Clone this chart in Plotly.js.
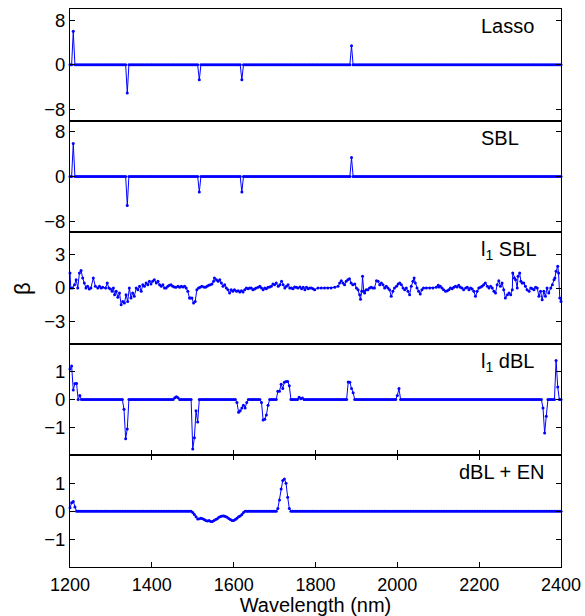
<!DOCTYPE html>
<html>
<head>
<meta charset="utf-8">
<script src="https://cdn.plot.ly/plotly-3.0.1.min.js"></script>
<style>html,body{margin:0;padding:0;background:#fff;}#chart{width:585px;height:616px;}</style>
</head>
<body>
<div id="chart"></div>
<script>
// Wavelength sampling grid (nm)
const wlStart = 1200, wlEnd = 2400, wlStep = 4;

// Panel labels
const panelLabels = ["Lasso", "SBL", "l<sub>1</sub> SBL", "l<sub>1</sub> dBL", "dBL + EN"];

// Lasso: non-zero coefficients (all others are zero)
const lassoWl   = [1208, 1340, 1516, 1620, 1888];
const lassoBeta = [6.0, -5.05, -2.7, -2.7, 3.43];

// SBL: non-zero coefficients
const sblWl   = [1208, 1340, 1516, 1620, 1888];
const sblBeta = [5.9, -5.2, -2.8, -2.8, 3.37];

// l1 SBL: dense coefficients
const l1sblWl = [1200,1202,1206,1211,1215,1219,1223,1227,1231,1235,1239,1243,1247,1251,1257,1262,1268,1272,1276,1280,1287,1291,1295,1299,1303,1306,1309,1313,1317,1321,1325,1329,1333,1337,1341,1345,1349,1353,1357,1362,1366,1370,1374,1378,1382,1386,1390,1394,1398,1402,1406,1411,1415,1419,1423,1427,1431,1435,1439,1443,1447,1451,1455,1459,1464,1468,1472,1476,1480,1484,1488,1492,
1494,1498,1502,1506,1510,1514,1518,1522,1527,1531,1535,1539,1543,1547,1551,1553,1558,1562,1566,1570,1574,1578,1582,1586,1590,1594,1598,1602,1607,1611,1615,1619,1623,1627,1631,1635,1639,1643,1647,1651,1655,1660,1664,1668,1672,1676,1680,1684,1688,1692,1696,1700,1704,1709,1713,1717,1721,1725,1729,1733,1737,1741,1745,1749,1753,1757,1762,1766,1770,1774,1778,1782,1786,1790,1794,1798,
1806,1814,1822,1830,1838,1847,1855,1859,1863,1867,1871,1875,1879,1883,1887,1891,1896,1900,1904,1908,1910,1913,1915,1918,1920,1924,1928,1932,1936,1940,1944,1949,1953,1957,1961,1965,1969,1973,1977,1981,1985,1989,1993,1998,2002,2006,2010,2014,2018,2022,2026,2030,2034,2038,2041,2044,2048,2052,2056,2060,2064,2071,2079,2087,2095,2100,2102,
2105,2109,2113,2118,2122,2126,2130,2134,2138,2142,2146,2150,2154,2158,2162,2167,2171,2175,2179,2183,2187,2191,2195,2199,2203,2207,2211,2215,2220,2224,2228,2232,2236,2240,2244,2248,2252,2256,2260,2264,2269,2273,2277,2281,2282,2286,2289,2293,2295,2299,2302,2305,2309,2313,2317,2322,2326,2330,2334,2338,2342,2346,2350,2354,2358,2362,2366,2370,2375,2379,2383,2385,2388,2392,2394,2397,2400];
const l1sblBeta = [1.35,0,0,0.3,0.75,0,1.35,1.56,0.9,0.45,0,0.15,-0.09,0,0.9,0.15,0,0.15,0,0.06,0,0.45,0,-0.09,-0.3,0,-0.6,-0.3,-0.84,-0.45,-1.5,-1.2,-1.35,-0.6,-1.2,0,-0.9,-0.45,-0.75,0,-0.15,0.15,-0.3,0.3,0.15,0.45,0.3,0.6,0.36,0.6,0.75,0.45,0.6,0.3,0.15,0.3,0,0,0.15,0.24,0.3,0.15,0.09,0.06,0.15,0.06,0.15,0.09,0.15,0,-0.3,-0.9,
-0.9,-0.9,-1.35,-1.2,-0.15,0,0.06,0.15,0.09,0.06,0.15,0.24,0.3,0.36,0.6,0.9,0.75,0.6,0.75,0.45,0.15,0.3,0,-0.15,-0.45,-0.15,-0.3,-0.15,-0.3,-0.24,-0.36,-0.24,-0.36,-0.15,0,-0.06,0,0,-0.15,-0.09,0,0.06,0.15,0,-0.15,0,-0.06,0.06,0.09,0.15,0.36,0.3,0.45,0.15,0.3,0.6,0.3,0,0.15,0.3,0,0,-0.06,0.09,0.06,0,0.09,-0.06,0.06,-0.15,0.06,-0.06,0,0,-0.06,-0.15,
0,0,0,0,0,0.06,0.15,0.45,0.66,0.45,0.3,0.6,0.75,0.84,0.45,0.3,0.36,0,-0.15,-0.6,-1.0,-0.3,1.05,-0.3,-0.45,-0.15,-0.15,0,0.06,0,0,0.66,0.6,0.3,0.45,0.3,0,0.15,0,-0.15,-0.75,-0.3,0,0.15,0.36,0.45,0.3,0,-0.15,0,-0.3,-0.6,0.15,0.6,0.9,0.45,0,-0.3,-0.54,-0.15,0,0,0,0,0.06,0.24,0.09,
0.15,0,-0.15,-0.3,-0.24,-0.15,0,-0.06,0.06,0.15,0.09,0.24,0.06,0,-0.15,0,0.06,-0.15,0,-0.09,-0.3,-0.75,-0.3,0,0.06,0.15,0.3,0.45,0.15,0,0.15,0,-0.3,-0.45,0.3,0.66,0.15,0.45,-0.15,-0.9,-0.6,-0.45,-0.6,-0.15,1.35,0.9,0.75,0,1.05,1.35,0.6,0.45,0.45,0.15,-0.15,-0.3,0,-0.06,-0.15,0.06,0,-0.75,-0.3,-1.05,-0.3,-0.75,0,-0.45,0,0.3,0.75,0.9,1.5,1.95,1.35,-0.9,-1.2];

// l1 dBL: non-zero coefficients
const l1dblWl   = [1200,1204,1208,1212,1216,1224,1332,1336,1340,1456,1460,1464,1500,1504,1508,1512,1608,1612,1616,1620,1624,1628,1632,1668,1672,1676,1680,1684,1708,1712,1716,1720,1724,1728,1732,1736,1760,1764,1768,1880,1884,1888,1892,2000,2004,2356,2360,2364,2388,2392];
const l1dblBeta = [1.1,1.2,0.34,0.58,0.58,0.15,-0.35,-1.4,-1.05,0.07,0.1,0.07,-1.77,-1.37,-0.4,-0.8,-0.1,-0.45,-0.4,-0.3,-0.2,-0.3,-0.1,-0.1,-0.73,-0.7,-0.55,-0.2,0.3,0.3,0.55,0.4,0.62,0.65,0.65,0.5,0.08,0.03,0.06,0.63,0.62,0.4,0.25,0.15,0.4,-0.3,-1.2,-0.6,1.4,0.45];

// dBL + EN: non-zero coefficients
const dblenWl   = [1200,1204,1208,1212,1500,1504,1508,1512,1516,1520,1524,1528,1532,1536,1540,1544,1548,1552,1556,1560,1564,1568,1572,1576,1580,1584,1588,1592,1596,1600,1604,1608,1612,1616,1620,1624,1708,1712,1716,1720,1724,1728,1732,1736];
const dblenBeta = [0.12,0.3,0.35,0.15,-0.05,-0.12,-0.2,-0.28,-0.27,-0.25,-0.27,-0.3,-0.33,-0.35,-0.33,-0.37,-0.37,-0.33,-0.3,-0.27,-0.22,-0.19,-0.17,-0.17,-0.19,-0.22,-0.26,-0.3,-0.33,-0.33,-0.3,-0.25,-0.2,-0.17,-0.12,-0.05,0.1,0.4,0.8,1.1,1.15,1.0,0.5,0.1];

// Axis ranges / ticks per panel
const yRanges = [[-10,10],[-10,10],[-5,5],[-2,2],[-2,2]];
const yTicks  = [[-8,0,8],[-8,0,8],[-3,0,3],[-1,0,1],[-1,0,1]];
const xTicks  = [1200,1400,1600,1800,2000,2200,2400];

function fullSeries(wls, betas){
  const x=[], y=[];
  for(let w=wlStart; w<=wlEnd; w+=wlStep){
    x.push(w);
    const i = wls.indexOf(w);
    y.push(i>=0 ? betas[i] : 0);
  }
  return {x, y};
}

const series = [
  fullSeries(lassoWl, lassoBeta),
  fullSeries(sblWl, sblBeta),
  {x: l1sblWl, y: l1sblBeta},
  fullSeries(l1dblWl, l1dblBeta),
  fullSeries(dblenWl, dblenBeta)
];

const font = {family: "Liberation Sans, Arial, sans-serif", color: "#000"};
const traces = [];
const layout = {
  width: 585, height: 616,
  margin: {l: 70, r: 24, t: 9, b: 49},
  paper_bgcolor: "#fff", plot_bgcolor: "#fff",
  showlegend: false,
  font: Object.assign({size: 18}, font),
  annotations: []
};

const n = 5;
for(let p=0; p<n; p++){
  const sfx = p===0 ? "" : String(p+1);
  traces.push({
    x: series[p].x, y: series[p].y,
    type: "scatter", mode: "lines+markers",
    line: {color: "#0000ff", width: 1},
    marker: {color: "#0000ff", size: 3},
    xaxis: "x" + sfx, yaxis: "y" + sfx,
    cliponaxis: false, hoverinfo: "skip"
  });
  const top = 1 - p/n, bot = 1 - (p+1)/n;
  const isBottom = p === n-1;
  const hasXTicks = p >= 3;
  const xa = {
    domain: [0,1], anchor: "y" + sfx, range: [wlStart, wlEnd],
    tickvals: xTicks, ticks: hasXTicks ? "inside" : "", ticklen: 5, tickcolor: "#000",
    showticklabels: isBottom, showline: true, linecolor: "#000", linewidth: 1,
    mirror: isBottom ? "ticks" : true, showgrid: false, zeroline: false,
    tickfont: Object.assign({size: 18}, font)
  };
  if(isBottom){
    xa.ticklabelstandoff = 1;
    xa.title = {text: "Wavelength (nm)", font: Object.assign({size: 20}, font), standoff: 4};
  }
  layout["xaxis" + sfx] = xa;
  layout["yaxis" + sfx] = {
    domain: [bot, top], anchor: "x" + sfx, range: yRanges[p],
    tickvals: yTicks[p], ticks: "inside", ticklen: 5, tickcolor: "#000",
    showline: true, linecolor: "#000", linewidth: 1, mirror: "ticks",
    showgrid: false, zeroline: false,
    tickfont: Object.assign({size: 18.5}, font)
  };
  const lx = p === 4 ? 0.788 : 0.833;
  layout.annotations.push({
    text: panelLabels[p], xref: "paper", yref: "paper",
    x: lx, y: top - 0.007, xanchor: "left", yanchor: "top",
    showarrow: false, font: Object.assign({size: 20}, font)
  });
}
layout.annotations.push({
  text: "β", xref: "paper", yref: "paper", x: -0.098, y: 0.5,
  xanchor: "center", yanchor: "middle", textangle: -90,
  showarrow: false, font: Object.assign({size: 22}, font)
});

Plotly.newPlot("chart", traces, layout, {staticPlot: true});
</script>
</body>
</html>
